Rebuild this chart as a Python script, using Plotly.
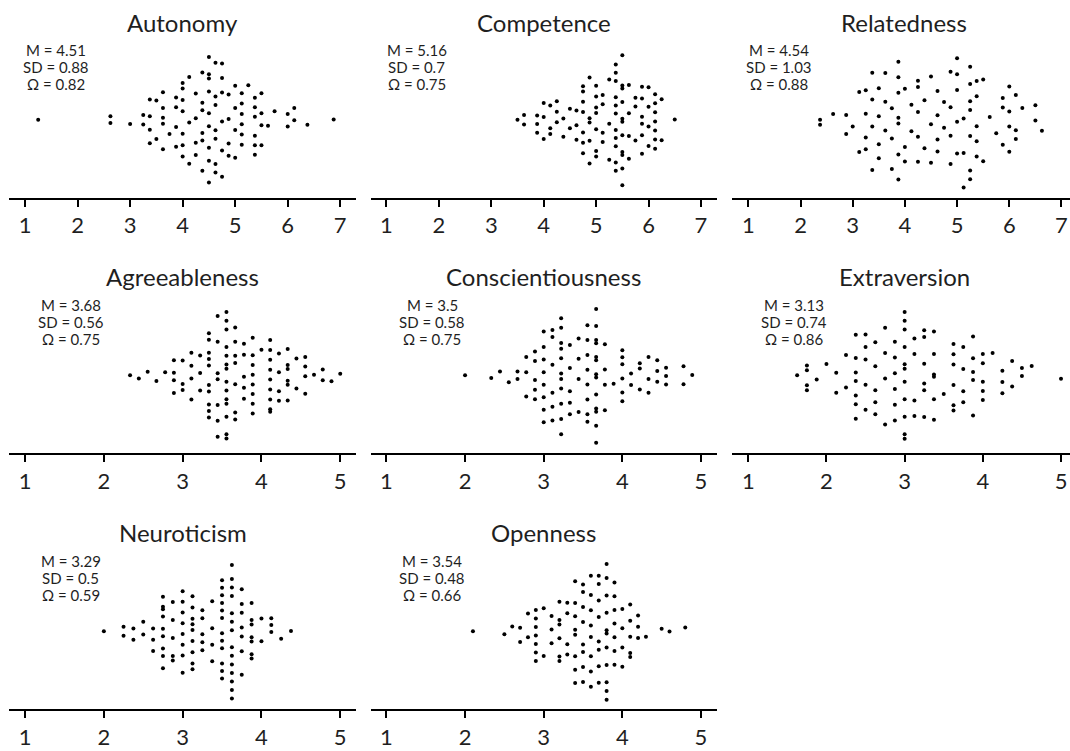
import numpy as np
import plotly.graph_objects as go

# ---- Scale scores: distinct score levels and number of respondents at each ----
autonomy_levels = [1.25, 2.625, 3.0, 3.25, 3.375, 3.5, 3.625, 3.75, 3.875, 4.0, 4.125, 4.25, 4.375, 4.5,
                   4.625, 4.75, 4.875, 5.0, 5.125, 5.25, 5.375, 5.5, 5.625, 5.75, 6.0, 6.125, 6.375, 6.875]
autonomy_counts = [1, 2, 1, 2, 4, 2, 5, 1, 4, 7, 3, 4, 6, 9, 7, 6, 4, 4, 6, 1, 6, 4, 1, 1, 2, 2, 1, 1]

competence_levels = [3.5, 3.625, 3.875, 4.0, 4.125, 4.25, 4.375, 4.5, 4.625, 4.75, 4.875, 5.0, 5.125, 5.25,
                     5.375, 5.5, 5.625, 5.75, 5.875, 6.0, 6.125, 6.25, 6.5]
competence_counts = [1, 2, 3, 3, 3, 3, 2, 2, 3, 7, 5, 7, 4, 3, 11, 11, 4, 3, 6, 4, 7, 2, 1]

relatedness_levels = [2.375, 2.625, 2.875, 3.0, 3.125, 3.25, 3.375, 3.5, 3.625, 3.75, 3.875, 4.0, 4.125, 4.25,
                      4.375, 4.5, 4.625, 4.75, 4.875, 5.0, 5.125, 5.25, 5.375, 5.5, 5.625, 5.75, 5.875, 6.0,
                      6.125, 6.25, 6.5, 6.625]
relatedness_counts = [2, 1, 2, 1, 2, 4, 4, 4, 3, 3, 7, 3, 2, 5, 2, 3, 4, 2, 4, 5, 3, 7, 5, 2, 1, 1, 3, 4, 3, 1, 2, 1]

agreeableness_levels = [2.333, 2.444, 2.556, 2.667, 2.778, 2.889, 3.0, 3.111, 3.222, 3.333, 3.444, 3.556, 3.667,
                        3.778, 3.889, 4.0, 4.111, 4.222, 4.333, 4.444, 4.556, 4.667, 4.778, 4.889, 5.0]
agreeableness_counts = [1, 1, 1, 1, 1, 4, 3, 4, 3, 10, 7, 14, 7, 5, 8, 1, 9, 4, 6, 2, 4, 1, 2, 1, 1]

conscientiousness_levels = [2.0, 2.333, 2.444, 2.556, 2.667, 2.778, 2.889, 3.0, 3.111, 3.222, 3.333, 3.444, 3.556,
                            3.667, 3.778, 3.889, 4.0, 4.111, 4.222, 4.333, 4.444, 4.556, 4.778, 4.889]
conscientiousness_counts = [1, 1, 1, 1, 2, 3, 5, 8, 6, 11, 5, 4, 8, 13, 4, 1, 6, 2, 3, 3, 3, 3, 2, 1]

extraversion_levels = [1.625, 1.75, 1.875, 2.0, 2.125, 2.25, 2.375, 2.5, 2.625, 2.75, 2.875, 3.0, 3.125, 3.25,
                       3.375, 3.5, 3.625, 3.75, 3.875, 4.0, 4.125, 4.25, 4.375, 4.5, 4.625, 5.0]
extraversion_counts = [1, 4, 1, 1, 2, 2, 7, 5, 5, 4, 6, 11, 4, 6, 6, 1, 6, 4, 5, 5, 1, 3, 2, 2, 1, 1]

neuroticism_levels = [2.0, 2.25, 2.375, 2.5, 2.625, 2.75, 2.875, 3.0, 3.125, 3.25, 3.375, 3.5, 3.625, 3.75,
                      3.875, 4.0, 4.125, 4.25, 4.375]
neuroticism_counts = [1, 2, 2, 2, 3, 9, 5, 8, 9, 5, 4, 12, 14, 7, 7, 2, 3, 1, 1]

openness_levels = [2.1, 2.5, 2.6, 2.7, 2.8, 2.9, 3.0, 3.1, 3.2, 3.3, 3.4, 3.5, 3.6, 3.7, 3.8, 3.9, 4.0, 4.1,
                   4.2, 4.3, 4.5, 4.6, 4.8]
openness_counts = [1, 1, 1, 2, 2, 7, 2, 3, 6, 4, 8, 8, 8, 8, 11, 7, 4, 5, 3, 1, 1, 1, 1]

scale_names = ["Autonomy", "Competence", "Relatedness", "Agreeableness", "Conscientiousness",
               "Extraversion", "Neuroticism", "Openness"]
scale_levels = [autonomy_levels, competence_levels, relatedness_levels, agreeableness_levels,
                conscientiousness_levels, extraversion_levels, neuroticism_levels, openness_levels]
scale_counts = [autonomy_counts, competence_counts, relatedness_counts, agreeableness_counts,
                conscientiousness_counts, extraversion_counts, neuroticism_counts, openness_counts]
scale_max = [7, 7, 7, 5, 5, 5, 5, 5]

stat_means = ["4.51", "5.16", "4.54", "3.68", "3.5", "3.13", "3.29", "3.54"]
stat_sds = ["0.88", "0.7", "1.03", "0.56", "0.58", "0.74", "0.5", "0.48"]
stat_omegas = ["0.82", "0.75", "0.88", "0.75", "0.75", "0.86", "0.59", "0.66"]


# ---- quasirandom (van der Corput) offsets, scaled by a kernel density estimate ----
def van_der_corput(n, base=2):
    seq = []
    for i in range(1, n + 1):
        v, denom, k = 0.0, 1.0, i
        while k:
            denom *= base
            k, r = divmod(k, base)
            v += r / denom
        seq.append(v)
    return np.array(seq)


def bw_nrd0(x):
    sd = np.std(x, ddof=1)
    q75, q25 = np.percentile(x, [75, 25])
    lo = min(sd, (q75 - q25) / 1.34)
    if lo <= 0:
        lo = sd if sd > 0 else 1.0
    return 0.9 * lo * len(x) ** -0.2


def quasirandom_offsets(x, adjust=0.5):
    x = np.sort(np.asarray(x, dtype=float))
    bw = bw_nrd0(x) * adjust
    grid = np.linspace(x.min() - 3 * bw, x.max() + 3 * bw, 1024)
    dens = np.exp(-0.5 * ((grid[:, None] - x[None, :]) / bw) ** 2).sum(axis=1)
    dens /= dens.max()
    d = np.interp(x, grid, dens)
    return x, (van_der_corput(len(x)) - 0.5) * 2 * d


# ---- panel geometry (pixels in a 1070 x 751 canvas) ----
W, H = 1070, 751
col_px = [(9.3, 356.0), (370.7, 716.7), (731.7, 1070.0)]
row_axis_px = [197.7, 453.3, 709.3]
row_title_px = [22.0, 276.0, 532.0]
half_h = 78.0          # half height of each panel's plotting band
swarm_w = 70.0         # maximum vertical spread of the swarm
x_ranges = {
    (7, 0): [0.7, 7.3], (7, 1): [0.7, 7.3], (7, 2): [0.682, 7.163],
    (5, 0): [0.8, 5.2], (5, 1): [0.8, 5.2], (5, 2): [0.788, 5.115],
}

font_family = "Lato, 'Open Sans', sans-serif"
text_color = "#1f1f1f"

fig = go.Figure()
annotations = []

for i, name in enumerate(scale_names):
    r, c = divmod(i, 3)
    k = i + 1
    xa = "xaxis" if k == 1 else f"xaxis{k}"
    ya = "yaxis" if k == 1 else f"yaxis{k}"
    xr = "x" if k == 1 else f"x{k}"
    yr = "y" if k == 1 else f"y{k}"

    values = np.repeat(scale_levels[i], scale_counts[i])
    xs, offs = quasirandom_offsets(values)

    fig.add_trace(go.Scatter(
        x=xs, y=offs * swarm_w, mode="markers",
        marker=dict(color="black", size=4, line=dict(width=0)),
        xaxis=xr, yaxis=yr, showlegend=False, hoverinfo="x",
    ))

    left, right = col_px[c]
    ax_y = row_axis_px[r]
    smax = scale_max[i]
    fig.layout[xa] = dict(
        domain=[left / W, right / W], range=x_ranges[(smax, c)], anchor=yr,
        tickmode="array", tickvals=list(range(1, smax + 1)),
        ticktext=[str(v) for v in range(1, smax + 1)],
        showline=True, linewidth=2, linecolor="black",
        ticks="outside", ticklen=7, tickwidth=2, tickcolor="black",
        ticklabelstandoff=0,
        tickfont=dict(family=font_family, size=22, color=text_color),
        showgrid=False, zeroline=False, fixedrange=True,
    )
    fig.layout[ya] = dict(
        domain=[(H - ax_y) / H, (H - ax_y + 2 * half_h) / H], range=[-half_h, half_h],
        anchor=xr, visible=False, showgrid=False, zeroline=False, fixedrange=True,
    )

    # panel title
    annotations.append(dict(
        text=name, xref="paper", yref="paper",
        x=(left + right) / 2 / W if c < 2 else (left + 1077.0) / 2 / W,
        y=(H - row_title_px[r]) / H,
        showarrow=False, xanchor="center", yanchor="middle",
        font=dict(family=font_family, size=24, color=text_color),
    ))
    # descriptive statistics
    for line, h in zip([f"M = {stat_means[i]}", f"SD = {stat_sds[i]}", f"\u03a9 = {stat_omegas[i]}"],
                       [148, 131, 114]):
        annotations.append(dict(
            text=line, xref=xr, yref=yr, x=1.58, y=-half_h + h,
            showarrow=False, xanchor="center", yanchor="middle",
            font=dict(family=font_family, size=15, color=text_color),
        ))

fig.update_layout(
    width=W, height=H, margin=dict(l=0, r=0, t=0, b=0),
    paper_bgcolor="white", plot_bgcolor="white",
    annotations=annotations, showlegend=False,
)

fig.write_html("out.html", config={"displayModeBar": False})
